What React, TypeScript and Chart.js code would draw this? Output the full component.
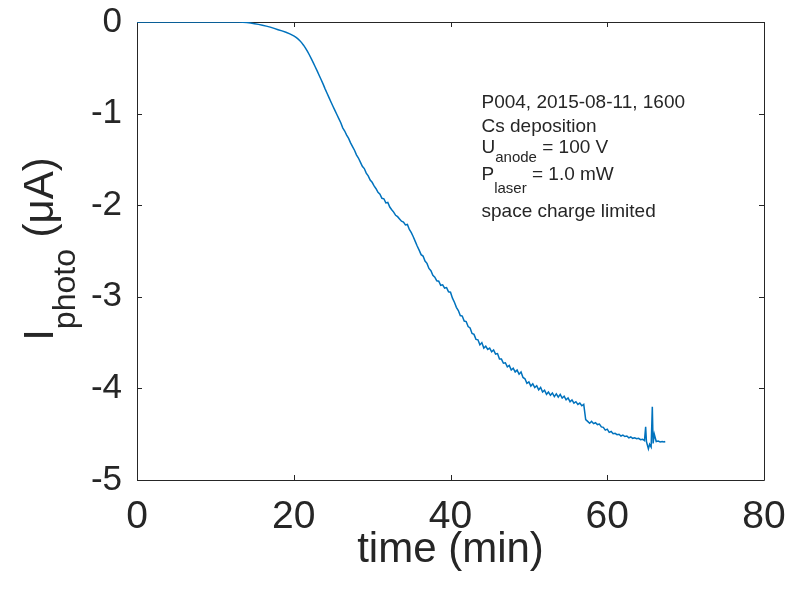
import React, { useEffect, useRef } from "react";
import { Chart, registerables } from "chart.js";

Chart.register(...registerables);

const timeMin: number[] = [
  0, 2, 4, 6, 8, 10, 12, 13, 13.5, 14, 14.5, 15, 15.5, 16, 16.5, 17, 17.5, 18, 18.5, 19, 19.5,
  20, 20.25, 20.5, 20.75, 21, 21.25, 21.5, 21.75, 22, 22.25, 22.5, 22.75, 23, 23.25, 23.5, 23.75,
  24, 24.25, 24.5, 24.75, 25, 25.25, 25.5, 25.75, 26, 26.25, 26.5, 26.75, 27, 27.25, 27.5, 27.75,
  28, 28.25, 28.5, 28.75, 29, 29.25, 29.5, 29.75, 30, 30.25, 30.5, 30.75, 31, 31.25, 31.5, 31.75,
  32, 32.25, 32.5, 32.75, 33, 33.25, 33.5, 33.75, 34, 34.25, 34.5, 34.75, 35, 35.25, 35.5, 35.75,
  36, 36.25, 36.5, 36.75, 37, 37.25, 37.5, 37.75, 38, 38.25, 38.5, 38.75, 39, 39.25, 39.5, 39.75,
  40, 40.25, 40.5, 40.75, 41, 41.25, 41.5, 41.75, 42, 42.25, 42.5, 42.75, 43, 43.25, 43.5, 43.75,
  44, 44.25, 44.5, 44.75, 45, 45.25, 45.5, 45.75, 46, 46.25, 46.5, 46.75, 47, 47.25, 47.5, 47.75,
  48, 48.25, 48.5, 48.75, 49, 49.25, 49.5, 49.75, 50, 50.25, 50.5, 50.75, 51, 51.25, 51.5, 51.75,
  52, 52.25, 52.5, 52.75, 53, 53.25, 53.5, 53.75, 54, 54.25, 54.5, 54.75, 55, 55.25, 55.5, 55.75,
  56, 56.25, 56.5, 56.75, 57, 57.25, 57.5, 57.75, 58, 58.25, 58.5, 58.75, 59, 59.25, 59.5, 59.75,
  60, 60.25, 60.5, 60.75, 61, 61.25, 61.5, 61.75, 62, 62.25, 62.5, 62.75, 63, 63.25, 63.5, 63.75,
  64, 64.25, 64.5, 64.75, 64.9, 65, 65.25, 65.4, 65.6, 65.75, 65.85, 66, 66.25, 66.5, 66.75, 67,
  67.25, 67.4,
];

const photoCurrentUA: number[] = [
  0, 0, 0, 0, 0, 0, 0, 0, -0.002, -0.006, -0.011, -0.018, -0.026, -0.035, -0.045, -0.056, -0.07,
  -0.084, -0.097, -0.112, -0.13,
  -0.152, -0.165, -0.181, -0.201, -0.225, -0.253, -0.285, -0.321, -0.36, -0.402, -0.446, -0.491,
  -0.537, -0.584, -0.631, -0.678,
  -0.73, -0.778, -0.826, -0.874, -0.92, -0.965, -1.01, -1.055, -1.1, -1.155, -1.19, -1.235, -1.27,
  -1.32, -1.36, -1.4,
  -1.45, -1.485, -1.53, -1.575, -1.6, -1.65, -1.68, -1.725, -1.75, -1.79, -1.82, -1.86, -1.88,
  -1.925, -1.93, -1.975,
  -1.97, -2.02, -2.05, -2.075, -2.11, -2.125, -2.15, -2.175, -2.185, -2.215, -2.21, -2.265, -2.3,
  -2.345, -2.395, -2.445,
  -2.49, -2.54, -2.555, -2.61, -2.635, -2.69, -2.715, -2.765, -2.785, -2.825, -2.83, -2.875, -2.87,
  -2.905, -2.9, -2.945,
  -2.95, -3.015, -3.06, -3.115, -3.15, -3.205, -3.21, -3.265, -3.27, -3.325, -3.34, -3.4, -3.41,
  -3.465, -3.47, -3.525,
  -3.5, -3.56, -3.54, -3.575, -3.56, -3.6, -3.58, -3.625, -3.62, -3.68, -3.68, -3.725, -3.72,
  -3.765, -3.75, -3.8,
  -3.78, -3.82, -3.8, -3.845, -3.82, -3.88, -3.895, -3.945, -3.93, -3.975, -3.95, -3.99, -3.97,
  -4.015, -3.99, -4.04,
  -4.02, -4.065, -4.04, -4.075, -4.05, -4.09, -4.06, -4.095, -4.065, -4.105, -4.085, -4.125,
  -4.105, -4.145, -4.125, -4.16,
  -4.145, -4.175, -4.16, -4.19, -4.175, -4.34, -4.36, -4.38, -4.36, -4.385, -4.375, -4.395, -4.39,
  -4.42, -4.425, -4.455,
  -4.445, -4.48, -4.47, -4.495, -4.49, -4.505, -4.5, -4.52, -4.51, -4.525, -4.52, -4.54, -4.53,
  -4.545, -4.54, -4.55,
  -4.545, -4.56, -4.555, -4.57, -4.42, -4.58, -4.66, -4.61, -4.64, -4.2, -4.6, -4.5, -4.58, -4.575,
  -4.585, -4.58,
  -4.585, -4.58,
];

const xTickValues: number[] = [0, 20, 40, 60, 80];
const yTickValues: number[] = [0, -1, -2, -3, -4, -5];

const annotationLines: { main: string; sub?: string; rest?: string }[] = [
  { main: "P004, 2015-08-11, 1600" },
  { main: "Cs deposition" },
  { main: "U", sub: "anode", rest: " = 100 V" },
  { main: "P", sub: "laser", rest: " = 1.0 mW" },
  { main: "space charge limited" },
];

const FONT = '"Liberation Sans", Arial, Helvetica, sans-serif';
const INK = "#262626";

const framePlugin = {
  id: "matlabFrame",
  beforeDatasetsDraw(chart: any) {
    const { ctx, chartArea } = chart;
    const { left, right, top, bottom } = chartArea;
    const xs = chart.scales.x;
    const ys = chart.scales.y;
    ctx.save();
    ctx.strokeStyle = INK;
    ctx.lineWidth = 1;
    ctx.beginPath();
    ctx.rect(Math.round(left) + 0.5, Math.round(top) + 0.5, Math.round(right - left), Math.round(bottom - top));
    ctx.stroke();
    const tl = 5;
    ctx.beginPath();
    xTickValues.forEach((v) => {
      const px = Math.round(xs.getPixelForValue(v)) + 0.5;
      ctx.moveTo(px, bottom);
      ctx.lineTo(px, bottom - tl);
      ctx.moveTo(px, top);
      ctx.lineTo(px, top + tl);
    });
    yTickValues.forEach((v) => {
      const py = Math.round(ys.getPixelForValue(v)) + 0.5;
      ctx.moveTo(left, py);
      ctx.lineTo(left + tl, py);
      ctx.moveTo(right, py);
      ctx.lineTo(right - tl, py);
    });
    ctx.stroke();
    ctx.restore();
  },
  afterDraw(chart: any) {
    const { ctx, chartArea } = chart;
    ctx.save();
    ctx.fillStyle = INK;
    ctx.textBaseline = "alphabetic";

    // x-axis title
    ctx.font = `42px ${FONT}`;
    ctx.textAlign = "center";
    ctx.fillText("time (min)", (chartArea.left + chartArea.right) / 2, 562);

    // y-axis title with subscript, rotated
    ctx.textAlign = "left";
    const mainF = `42px ${FONT}`;
    const subF = `32px ${FONT}`;
    ctx.font = mainF;
    const wI = ctx.measureText("I").width;
    const wRest = ctx.measureText(" (\u03bcA)").width;
    ctx.font = subF;
    const wSub = ctx.measureText("photo").width;
    const total = wI + wSub + wRest;
    ctx.translate(53, 249);
    ctx.rotate(-Math.PI / 2);
    let x0 = -total / 2;
    ctx.font = mainF;
    ctx.fillText("I", x0, 0);
    x0 += wI;
    ctx.font = subF;
    ctx.fillText("photo", x0, 22);
    x0 += wSub;
    ctx.font = mainF;
    ctx.fillText(" (\u03bcA)", x0, 0);
    ctx.setTransform(1, 0, 0, 1, 0, 0);

    // annotation
    const baselines = [108.3, 131.7, 153.3, 180, 216.7];
    const subBaselines = [0, 0, 161.7, 193, 0];
    const ax = 481.5;
    annotationLines.forEach((ln, i) => {
      ctx.font = `19px ${FONT}`;
      ctx.fillText(ln.main, ax, baselines[i]);
      let cx = ax + ctx.measureText(ln.main).width;
      if (ln.sub) {
        ctx.font = `15px ${FONT}`;
        ctx.fillText(ln.sub, cx, subBaselines[i]);
        cx += ctx.measureText(ln.sub).width;
      }
      if (ln.rest) {
        ctx.font = `19px ${FONT}`;
        ctx.fillText(ln.rest, cx, baselines[i]);
      }
    });
    ctx.restore();
  },
};

export default function App() {
  const ref = useRef<HTMLCanvasElement | null>(null);
  useEffect(() => {
    if (!ref.current) return;
    const points = timeMin.map((t, i) => ({ x: t, y: photoCurrentUA[i] }));
    const chart = new Chart(ref.current, {
      type: "line",
      data: {
        datasets: [
          {
            data: points,
            borderColor: "#0072BD",
            borderWidth: 1.5,
            pointRadius: 0,
            tension: 0,
            fill: false,
          },
        ],
      },
      options: {
        animation: false,
        responsive: false,
        layout: { padding: { left: 0, right: 34, top: 22, bottom: 0 } },
        plugins: { legend: { display: false }, tooltip: { enabled: false } },
        scales: {
          x: {
            type: "linear",
            min: 0,
            max: 80,
            afterBuildTicks: (s: any) => {
              s.ticks = xTickValues.map((v) => ({ value: v }));
            },
            afterFit: (s: any) => {
              s.height = 114;
              s.paddingLeft = 0;
              s.paddingRight = 0;
            },
            grid: { display: false, drawTicks: false },
            border: { display: false },
            ticks: {
              color: INK,
              font: { family: FONT, size: 39 },
              padding: 14,
              maxRotation: 0,
              autoSkip: false,
            },
          },
          y: {
            type: "linear",
            min: -5,
            max: 0,
            afterBuildTicks: (s: any) => {
              s.ticks = yTickValues.map((v) => ({ value: v }));
            },
            afterFit: (s: any) => {
              s.width = 137;
              s.paddingTop = 0;
              s.paddingBottom = 0;
            },
            grid: { display: false, drawTicks: false },
            border: { display: false },
            ticks: {
              color: INK,
              font: { family: FONT, size: 35 },
              padding: 15,
              autoSkip: false,
            },
          },
        },
      },
      plugins: [framePlugin],
    });
    return () => chart.destroy();
  }, []);
  return (
    <div style={{ position: "absolute", left: 0, top: 0, width: 798, height: 594, background: "#fff" }}>
      <canvas ref={ref} width={798} height={594} style={{ display: "block" }} />
    </div>
  );
}
